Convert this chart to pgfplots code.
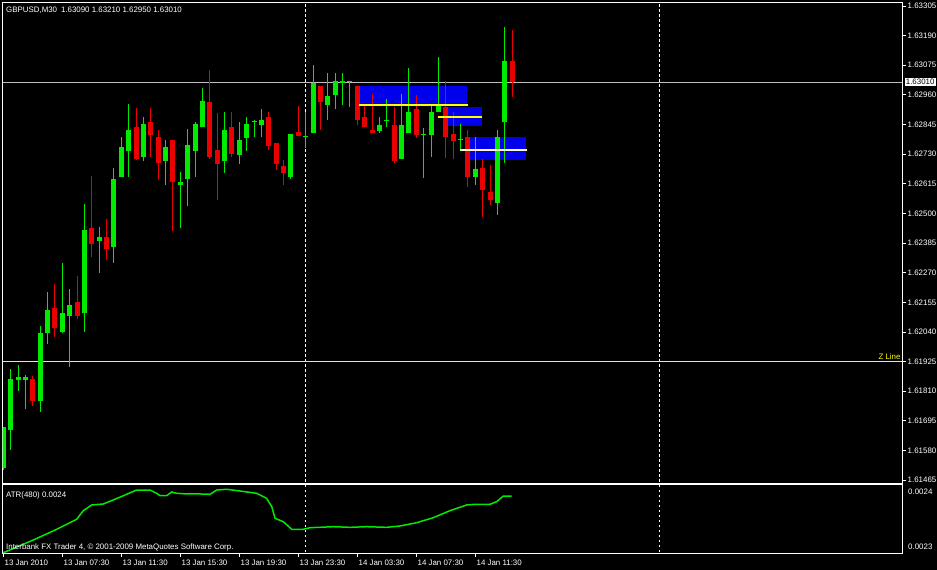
\documentclass[border=0pt]{standalone}
\usepackage{pgfplots}
\pgfplotsset{compat=1.18}
\usepackage{pgfplotstable}
\usepackage{fontspec}
\setmainfont{Liberation Sans}
\definecolor{bull}{RGB}{0,235,0}
\definecolor{bear}{RGB}{235,0,0}
\definecolor{zone}{RGB}{0,0,235}
\definecolor{zline}{RGB}{255,255,0}
\definecolor{zline3}{RGB}{250,250,200}
\definecolor{bid}{RGB}{190,190,190}
\newcommand\fs{\fontsize{7.9}{9}\selectfont}

\pgfplotstableread{
i O H L C
0 1.61511 1.61672 1.61504 1.61672
1 1.61659 1.61895 1.61582 1.61856
2 1.61854 1.61912 1.61812 1.61864
3 1.61854 1.61873 1.61740 1.61864
5 1.61772 1.62063 1.61731 1.62035
6 1.62035 1.62194 1.61993 1.62125
8 1.62041 1.62306 1.62035 1.62112
9 1.62103 1.62206 1.61905 1.62145
11 1.62112 1.62535 1.62041 1.62436
13 1.62394 1.62446 1.62270 1.62407
15 1.62371 1.62675 1.62309 1.62634
16 1.62643 1.62797 1.62643 1.62758
17 1.62743 1.62925 1.62643 1.62824
19 1.62720 1.62875 1.62705 1.62847
22 1.62705 1.62785 1.62610 1.62757
24 1.62610 1.62662 1.62442 1.62623
25 1.62632 1.62827 1.62529 1.62766
26 1.62743 1.62856 1.62643 1.62847
27 1.62834 1.62986 1.62834 1.62936
30 1.62705 1.62895 1.62656 1.62824
32 1.62727 1.62856 1.62692 1.62785
33 1.62792 1.62875 1.62743 1.62847
34 1.62856 1.62863 1.62795 1.62859
35 1.62843 1.62904 1.62795 1.62863
39 1.62640 1.62808 1.62632 1.62808
41 1.62795 1.62895 1.62753 1.62798
42 1.62811 1.63076 1.62811 1.63005
44 1.62921 1.63046 1.62863 1.62956
45 1.62960 1.63046 1.62904 1.63014
46 1.63005 1.63046 1.62921 1.63014
47 1.63011 1.63015 1.62914 1.63011
51 1.62821 1.62873 1.62813 1.62843
52 1.62857 1.62943 1.62834 1.62858
54 1.62710 1.62964 1.62710 1.62843
55 1.62811 1.63063 1.62811 1.62895
57 1.62803 1.62830 1.62636 1.62805
58 1.62804 1.62925 1.62720 1.62895
59 1.62895 1.63106 1.62895 1.62924
62 1.62785 1.62846 1.62746 1.62786
64 1.62643 1.62795 1.62610 1.62672
67 1.62542 1.62824 1.62494 1.62797
68 1.62856 1.63225 1.62695 1.63090
}\bulltab

\pgfplotstableread{
i O H L C
4 1.61856 1.61869 1.61753 1.61772
7 1.62134 1.62225 1.62022 1.62054
10 1.62155 1.62257 1.62090 1.62103
12 1.62445 1.62645 1.62330 1.62381
14 1.62407 1.62477 1.62319 1.62361
18 1.62837 1.62908 1.62707 1.62710
20 1.62856 1.62908 1.62720 1.62804
21 1.62795 1.62824 1.62630 1.62695
23 1.62785 1.62785 1.62433 1.62623
28 1.62934 1.63057 1.62710 1.62720
29 1.62746 1.62889 1.62552 1.62692
31 1.62837 1.62895 1.62720 1.62731
36 1.62875 1.62895 1.62746 1.62762
37 1.62774 1.62774 1.62669 1.62692
38 1.62684 1.62707 1.62610 1.62656
40 1.62815 1.62915 1.62802 1.62802
43 1.62996 1.62996 1.62824 1.62931
48 1.62995 1.62995 1.62843 1.62863
49 1.62873 1.62921 1.62834 1.62834
50 1.62824 1.62964 1.62813 1.62813
53 1.62843 1.62914 1.62695 1.62705
56 1.62905 1.62960 1.62792 1.62804
60 1.62914 1.63015 1.62714 1.62795
61 1.62807 1.62895 1.62710 1.62782
63 1.62795 1.62824 1.62604 1.62643
65 1.62675 1.62711 1.62486 1.62592
66 1.62584 1.62688 1.62533 1.62552
69 1.63090 1.63210 1.62950 1.63010
}\beartab

\pgfplotstableread{
i v
0 0.0022896
4.07 0.0023127
7.24 0.0023322
9.95 0.0023504
10.85 0.0023660
11.99 0.0023764
13.56 0.0023782
14.92 0.0023855
16.5 0.0023945
18.09 0.0024036
19.89 0.0024036
20.8 0.0023976
21.25 0.0023933
22.16 0.0023933
22.83 0.0024000
23.5 0.0023976
24.87 0.0023964
26.67 0.0023964
28.03 0.0023958
28.94 0.0024036
30.29 0.0024049
32.1 0.0024018
34.36 0.0023976
35.7 0.0023885
36.4 0.0023733
36.84 0.0023522
37.97 0.0023460
39.1 0.0023322
40.68 0.0023322
41.59 0.0023351
44.75 0.0023369
47 0.0023358
49.27 0.0023369
51.98 0.0023358
53.79 0.0023382
56.05 0.0023442
58.31 0.0023533
60.56 0.0023660
62.83 0.0023764
63.96 0.0023776
65.99 0.0023776
66.9 0.0023824
67.8 0.0023927
68.94 0.0023927
}\atrtab

\begin{document}
\begin{tikzpicture}[x=1pt,y=1pt]
\path[use as bounding box, fill=black] (0,0) rectangle (937,570);

\begin{axis}[
  at={(2.7pt,86.5pt)}, anchor=south west,
  width=900pt, height=480.8pt, scale only axis,
  xmin=-0.08, xmax=121.95, ymin=1.614518, ymax=1.633178,
  scaled y ticks=false,
  axis background/.style={fill=black},
  axis line style={white, line width=1pt},
  xtick=\empty,
  ytick={1.61465,1.61580,1.61695,1.61810,1.61925,1.62040,1.62155,1.62270,1.62385,1.62500,1.62615,1.62730,1.62845,1.62960,1.63075,1.63190,1.63305},
  yticklabels={1.61465,1.61580,1.61695,1.61810,1.61925,1.62040,1.62155,1.62270,1.62385,1.62500,1.62615,1.62730,1.62845,1.62960,1.63075,1.63190,1.63305},
  ytick pos=right, yticklabel pos=right,
  tick align=outside, major tick length=3pt,
  tick style={white, line width=0.8pt},
  yticklabel style={text=white, font=\fs, xshift=-1.5pt},
]
% zones
\addplot[draw=none, fill=zone] coordinates {(48.2,1.62926) (62.9,1.62926) (62.9,1.62996) (48.2,1.62996)};
\addplot[draw=none, fill=zone] coordinates {(59.8,1.62841) (64.87,1.62841) (64.87,1.62914) (59.8,1.62914)};
\addplot[draw=none, fill=zone] coordinates {(63.28,1.62709) (70.87,1.62709) (70.87,1.62797) (63.28,1.62797)};
% bid line
\addplot[draw=bid, line width=1pt] coordinates {(0,1.63010) (121.9,1.63010)};
% period separators
\addplot[white, line width=0.9pt, dash pattern=on 2.5pt off 2.5pt] coordinates {(41,1.6140) (41,1.6340)};
\addplot[white, line width=0.9pt, dash pattern=on 2.5pt off 2.5pt] coordinates {(89,1.6140) (89,1.6340)};
% Z line as a thin filled band
\addplot[draw=none, fill=zline] coordinates {(0,1.619215) (121.9,1.619215) (121.9,1.619285) (0,1.619285)};
% wicks
\addplot[draw=none, mark=none, error bars/.cd, y dir=plus, y explicit, error mark=none,
  error bar style={draw=bull, line width=1pt}]
  table[x=i, y=L, y error expr={\thisrow{H}-\thisrow{L}}] {\bulltab};
\addplot[draw=none, mark=none, error bars/.cd, y dir=plus, y explicit, error mark=none,
  error bar style={draw=bear, line width=1pt}]
  table[x=i, y=L, y error expr={\thisrow{H}-\thisrow{L}}] {\beartab};
% bodies
\addplot[draw=none, mark=none, error bars/.cd, y dir=plus, y explicit, error mark=none,
  error bar style={draw=bull, line width=5pt}]
  table[x=i, y=O, y error expr={max(\thisrow{C}-\thisrow{O},0.00004)}] {\bulltab};
\addplot[draw=none, mark=none, error bars/.cd, y dir=plus, y explicit, error mark=none,
  error bar style={draw=bear, line width=5pt}]
  table[x=i, y=C, y error expr={max(\thisrow{O}-\thisrow{C},0.00004)}] {\beartab};
% zone lines
\addplot[draw=zline, line width=1.8pt] coordinates {(48.2,1.62921) (62.95,1.62921)};
\addplot[draw=zline, line width=1.8pt] coordinates {(58.9,1.62875) (64.95,1.62875)};
\addplot[draw=zline3, line width=1.8pt] coordinates {(61.88,1.62747) (70.97,1.62747)};
\end{axis}

\begin{axis}[
  at={(2.7pt,16pt)}, anchor=south west,
  width=900pt, height=69pt, scale only axis,
  xmin=-0.08, xmax=121.95, ymin=0.0022873, ymax=0.0024127,
  scaled y ticks=false,
  axis background/.style={fill=black},
  axis line style={white, line width=1pt},
  xtick={0,8,16,24,32,40,48,56,64},
  xticklabels={13 Jan 2010,13 Jan 07:30,13 Jan 11:30,13 Jan 15:30,13 Jan 19:30,13 Jan 23:30,14 Jan 03:30,14 Jan 07:30,14 Jan 11:30},
  xtick pos=bottom,
  ytick={0.0023,0.0024}, yticklabels={0.0023,0.0024},
  ytick pos=right, yticklabel pos=right,
  tick align=outside, major tick length=3.5pt,
  tick style={white, line width=0.8pt},
  y tick style={draw=none},
  xticklabel style={text=white, font=\fs, anchor=north west, xshift=-2.2pt, yshift=1pt},
  yticklabel style={text=white, font=\fs, xshift=-1.5pt},
]
\addplot[white, line width=0.9pt, dash pattern=on 2.5pt off 2.5pt] coordinates {(41,0.0022) (41,0.0025)};
\addplot[white, line width=0.9pt, dash pattern=on 2.5pt off 2.5pt] coordinates {(89,0.0022) (89,0.0025)};
\addplot[draw=bull, line width=1.5pt] table[x=i, y=v] {\atrtab};
\end{axis}

\node[anchor=west, text=white, font=\fs, inner sep=0pt] at (6,560) {GBPUSD,M30\enspace 1.63090 1.63210 1.62950 1.63010};
\node[anchor=west, text=white, font=\fs, inner sep=0pt] at (6,75) {ATR(480) 0.0024};
\node[anchor=west, text=white, font=\fs, inner sep=0pt] at (6,22.7) {Interbank FX Trader 4, © 2001-2009 MetaQuotes Software Corp.};
\node[anchor=south east, text=zline, font=\fs, inner sep=0.3pt] at (901,209.8) {Z Line};
\node[anchor=west, fill=white, text=black, font=\fs, inner xsep=1.2pt, inner ysep=0.8pt] at (904.5,488) {1.63010};
\end{tikzpicture}
\end{document}
